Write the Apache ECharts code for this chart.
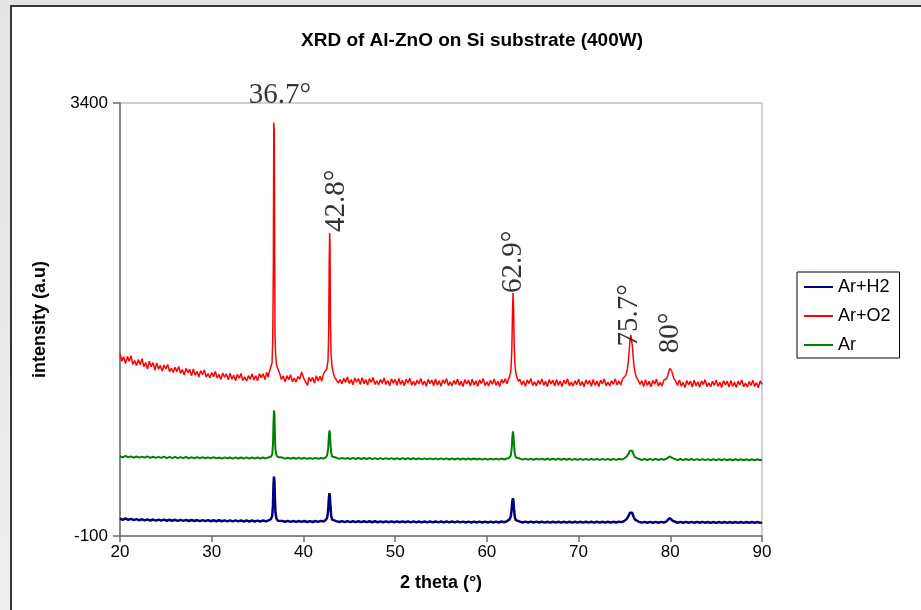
<!DOCTYPE html>
<html>
<head>
<meta charset="utf-8">
<script src="https://cdn.jsdelivr.net/npm/echarts@6/dist/echarts.min.js"></script>
<style>
html,body{margin:0;padding:0;}
body{width:921px;height:610px;overflow:hidden;background:linear-gradient(180deg,#e4e4e4,#efefef);position:relative;}
#frame{position:absolute;left:10px;top:5px;width:1000px;height:700px;background:#fff;border-left:2px solid #383838;border-top:2px solid #383838;}
#chart{position:absolute;left:0;top:0;width:921px;height:610px;}
</style>
</head>
<body>
<div id="frame"></div>
<div id="chart"></div>
<script>
const chartTitle = 'XRD of Al-ZnO on Si substrate (400W)';
const seriesNames = ['Ar+H2', 'Ar+O2', 'Ar'];
const xTicks = [20, 30, 40, 50, 60, 70, 80, 90];
const yTicks = [-100, 3400];

const arO2 = [
[20.0,1374],[20.2,1312],[20.4,1350],[20.6,1293],[20.8,1352],[21.0,1312],[21.2,1357],[21.4,1286],[21.6,1319],[21.8,1277],[22.0,1327],[22.2,1284],[22.4,1334],[22.6,1268],[22.8,1303],[23.0,1249],[23.2,1313],[23.4,1268],[23.6,1301],[23.8,1239],
[24.0,1298],[24.2,1248],[24.4,1279],[24.6,1233],[24.8,1282],[25.0,1250],[25.2,1287],[25.4,1229],[25.6,1256],[25.8,1222],[26.0,1263],[26.2,1229],[26.4,1271],[26.6,1216],[26.8,1246],[27.0,1202],[27.2,1255],[27.4,1219],[27.6,1247],[27.8,1196],
[28.0,1250],[28.2,1200],[28.4,1232],[28.6,1186],[28.8,1236],[29.0,1205],[29.2,1243],[29.4,1185],[29.6,1213],[29.8,1179],[30.0,1221],[30.2,1188],[30.4,1230],[30.6,1177],[30.8,1207],[31.0,1164],[31.2,1218],[31.4,1183],[31.6,1211],[31.8,1162],
[32.0,1216],[32.2,1167],[32.4,1200],[32.6,1155],[32.8,1206],[33.0,1175],[33.2,1214],[33.4,1157],[33.6,1186],[33.8,1153],[34.0,1196],[34.2,1166],[34.4,1211],[34.6,1161],[34.8,1195],[35.0,1154],[35.2,1212],[35.4,1180],[35.6,1211],[35.8,1165],
[36.0,1223],[36.15,1185],[36.3,1232],[36.45,1240],[36.58,1300],[36.65,1470],[36.72,2050],[36.77,3240],[36.82,3180],[36.86,2300],[36.9,1520],[36.97,1360],[37.05,1290],[37.15,1262],[37.3,1235],[37.45,1205],
[37.6,1165],[37.8,1194],[38.0,1146],[38.2,1196],[38.4,1164],[38.6,1203],[38.8,1146],[39.0,1176],[39.2,1144],[39.4,1190],[39.6,1166],[39.8,1225],[39.95,1238],[40.1,1163],[40.3,1175],[40.45,1118],[40.6,1182],[40.8,1150],[41.0,1182],[41.2,1136],[41.4,1196],[41.6,1152],[41.8,1192],[42.0,1153],[42.2,1212],[42.4,1197],
[42.55,1250],[42.68,1320],[42.75,1520],[42.81,2100],[42.86,2350],[42.9,2250],[42.95,1600],[43.02,1360],[43.12,1270],[43.25,1220],[43.4,1185],
[43.6,1197],[43.8,1136],[44.0,1164],[44.2,1131],[44.4,1175],[44.6,1142],[44.8,1186],[45.0,1133],[45.2,1165],[45.4,1122],[45.6,1178],[45.8,1143],[46.0,1173],[46.2,1124],[46.4,1180],[46.6,1131],[46.8,1165],[47.0,1120],[47.2,1172],[47.4,1142],
[47.6,1181],[47.8,1125],[48.0,1155],[48.2,1122],[48.4,1166],[48.6,1134],[48.8,1177],[49.0,1125],[49.2,1157],[49.4,1115],[49.6,1170],[49.8,1136],[50.0,1166],[50.2,1118],[50.4,1173],[50.6,1125],[50.8,1159],[51.0,1115],[51.2,1167],[51.4,1136],
[51.6,1176],[51.8,1120],[52.0,1150],[52.2,1118],[52.4,1161],[52.6,1129],[52.8,1173],[53.0,1121],[53.2,1153],[53.4,1110],[53.6,1166],[53.8,1132],[54.0,1162],[54.2,1114],[54.4,1169],[54.6,1121],[54.8,1155],[55.0,1111],[55.2,1163],[55.4,1132],
[55.6,1172],[55.8,1116],[56.0,1146],[56.2,1114],[56.4,1158],[56.6,1126],[56.8,1170],[57.0,1118],[57.2,1150],[57.4,1108],[57.6,1164],[57.8,1130],[58.0,1160],[58.2,1112],[58.4,1168],[58.6,1120],[58.8,1154],[59.0,1110],[59.2,1162],[59.4,1132],
[59.6,1172],[59.8,1116],[60.0,1146],[60.2,1114],[60.4,1158],[60.6,1126],[60.8,1170],[61.0,1118],[61.2,1150],[61.4,1108],[61.6,1166],[61.8,1135],[62.0,1170],[62.2,1130],
[62.35,1168],[62.5,1190],[62.62,1240],[62.72,1400],[62.8,1720],[62.86,1865],[62.92,1720],[62.98,1450],[63.06,1290],[63.16,1215],[63.3,1175],[63.45,1150],
[63.6,1168],[63.8,1120],[64.0,1154],[64.2,1110],[64.4,1162],[64.6,1132],[64.8,1172],[65.0,1116],[65.2,1146],[65.4,1114],[65.6,1158],[65.8,1126],[66.0,1170],[66.2,1118],[66.4,1150],[66.6,1108],[66.8,1164],[67.0,1130],[67.2,1160],[67.4,1112],
[67.6,1166],[67.8,1118],[68.0,1152],[68.2,1108],[68.4,1160],[68.6,1130],[68.8,1170],[69.0,1114],[69.2,1144],[69.4,1112],[69.6,1156],[69.8,1124],[70.0,1168],[70.2,1116],[70.4,1148],[70.6,1106],[70.8,1162],[71.0,1128],[71.2,1158],[71.4,1110],
[71.6,1166],[71.8,1118],[72.0,1152],[72.2,1108],[72.4,1160],[72.6,1130],[72.8,1170],[73.0,1114],[73.2,1144],[73.4,1112],[73.6,1156],[73.8,1126],[74.0,1170],[74.2,1120],[74.4,1155],[74.6,1120],[74.8,1170],[75.0,1170],
[75.15,1200],[75.3,1240],[75.42,1310],[75.52,1400],[75.62,1490],[75.7,1525],[75.78,1510],[75.86,1440],[75.95,1350],[76.05,1270],[76.18,1215],[76.32,1180],[76.5,1158],
[76.7,1126],[76.9,1156],[77.1,1108],[77.3,1164],[77.5,1116],[77.7,1150],[77.9,1106],[78.1,1158],[78.3,1128],[78.5,1168],[78.7,1112],[78.9,1142],[79.1,1112],[79.3,1160],[79.45,1150],
[79.6,1175],[79.72,1195],[79.84,1230],[79.95,1255],[80.05,1258],[80.15,1235],[80.28,1200],[80.42,1170],[80.6,1150],
[80.8,1118],[81.0,1162],[81.2,1110],[81.4,1142],[81.6,1100],[81.8,1156],[82.0,1122],[82.2,1152],[82.4,1104],[82.6,1160],[82.8,1112],[83.0,1146],[83.2,1102],[83.4,1154],[83.6,1124],[83.8,1164],[84.0,1108],[84.2,1138],[84.4,1106],[84.6,1150],
[84.8,1118],[85.0,1162],[85.2,1110],[85.4,1142],[85.6,1100],[85.8,1156],[86.0,1122],[86.2,1152],[86.4,1104],[86.6,1158],[86.8,1110],[87.0,1144],[87.2,1100],[87.4,1152],[87.6,1122],[87.8,1162],[88.0,1106],[88.2,1136],[88.4,1104],[88.6,1148],
[88.8,1116],[89.0,1160],[89.2,1108],[89.4,1140],[89.6,1098],[89.8,1154],[90.0,1125]
];

const arOnly = [
[20.0,545],[20.3,536],[20.6,547],[20.9,535],[21.2,544],[21.5,534],[21.8,543],[22.1,533],[22.4,542],[22.7,533],[23.0,543],[23.3,532],[23.6,541],[23.9,531],[24.2,540],[24.5,531],[24.8,541],[25.1,530],[25.4,539],[25.7,530],[26.0,540],[26.3,529],[26.6,538],[26.9,529],[27.2,539],[27.5,528],[27.8,537],[28.1,528],[28.4,538],[28.7,527],[29.0,537],[29.3,528],[29.6,536],[29.9,527],[30.2,537],[30.5,527],[30.8,535],[31.1,526],[31.4,536],[31.7,527],[32.0,535],[32.3,526],[32.6,536],[32.9,526],[33.2,534],[33.5,526],[33.8,535],[34.1,526],[34.4,534],[34.7,527],[35.0,535],[35.3,526],[35.6,534],[35.9,527],[36.2,536],[36.45,540],[36.6,560],[36.68,640],[36.74,820],[36.79,915],[36.84,880],[36.89,720],[36.95,600],[37.05,555],[37.2,538],[37.4,530],[37.7,534],[38.0,525],[38.3,533],[38.6,524],[38.9,532],[39.2,524],[39.5,533],[39.8,524],[40.1,532],[40.4,523],[40.7,531],[41.0,523],[41.3,532],[41.6,523],[41.9,531],[42.2,526],[42.45,535],[42.6,555],[42.7,610],[42.77,700],[42.83,753],[42.88,735],[42.94,650],[43.02,575],[43.12,543],[43.3,530],[43.6,532],[43.9,523],[44.2,532],[44.5,523],[44.8,531],[45.1,522],[45.4,531],[45.7,522],[46.0,530],[46.3,522],[46.6,530],[46.9,522],[47.2,531],[47.5,521],[47.8,530],[48.1,521],[48.4,530],[48.7,521],[49.0,529],[49.3,521],[49.6,529],[49.9,520],[50.2,529],[50.5,520],[50.8,529],[51.1,520],[51.4,529],[51.7,520],[52.0,528],[52.3,520],[52.6,528],[52.9,519],[53.2,528],[53.5,519],[53.8,528],[54.1,519],[54.4,528],[54.7,519],[55.0,527],[55.3,519],[55.6,527],[55.9,518],[56.2,527],[56.5,518],[56.8,527],[57.1,518],[57.4,526],[57.7,518],[58.0,527],[58.3,518],[58.6,526],[58.9,518],[59.2,526],[59.5,517],[59.8,526],[60.1,517],[60.4,526],[60.7,517],[61.0,526],[61.3,517],[61.6,526],[61.9,518],[62.2,527],[62.45,533],[62.6,550],[62.7,600],[62.77,690],[62.84,745],[62.9,720],[62.96,640],[63.04,570],[63.15,536],[63.35,524],[63.6,526],[63.9,517],[64.2,526],[64.5,517],[64.8,525],[65.1,516],[65.4,525],[65.7,517],[66.0,525],[66.3,516],[66.6,525],[66.9,516],[67.2,525],[67.5,516],[67.8,525],[68.1,516],[68.4,524],[68.7,516],[69.0,524],[69.3,515],[69.6,524],[69.9,515],[70.2,524],[70.5,515],[70.8,524],[71.1,515],[71.4,524],[71.7,515],[72.0,523],[72.3,515],[72.6,523],[72.9,515],[73.2,523],[73.5,514],[73.8,523],[74.1,515],[74.4,524],[74.7,518],[75.0,528],[75.25,542],[75.45,566],[75.6,590],[75.72,602],[75.84,590],[75.98,562],[76.15,537],[76.35,524],[76.6,522],[76.9,514],[77.2,523],[77.5,514],[77.8,523],[78.1,514],[78.4,523],[78.7,514],[79.0,522],[79.3,516],[79.6,524],[79.8,532],[79.92,543],[80.02,548],[80.12,541],[80.3,528],[80.5,520],[80.8,513],[81.1,522],[81.4,513],[81.7,522],[82.0,513],[82.3,522],[82.6,513],[82.9,521],[83.2,513],[83.5,521],[83.8,513],[84.1,521],[84.4,512],[84.7,521],[85.0,512],[85.3,521],[85.6,512],[85.9,521],[86.2,512],[86.5,520],[86.8,512],[87.1,520],[87.4,512],[87.7,520],[88.0,512],[88.3,520],[88.6,511],[88.9,520],[89.2,511],[89.5,520],[89.8,512],[90.0,517]
];

const arH2 = [
[20.0,40],[20.3,30],[20.6,42],[20.9,31],[21.2,38],[21.5,28],[21.8,36],[22.1,27],[22.4,35],[22.7,26],[23.0,34],[23.3,25],[23.6,33],[23.9,24],[24.2,32],[24.5,24],[24.8,32],[25.1,23],[25.4,31],[25.7,23],[26.0,31],[26.3,22],[26.6,30],[26.9,22],[27.2,30],[27.5,21],[27.8,29],[28.1,21],[28.4,29],[28.7,20],[29.0,28],[29.3,20],[29.6,28],[29.9,19],[30.2,27],[30.5,19],[30.8,27],[31.1,19],[31.4,26],[31.7,18],[32.0,26],[32.3,18],[32.6,26],[32.9,18],[33.2,25],[33.5,17],[33.8,25],[34.1,17],[34.4,25],[34.7,17],[35.0,24],[35.3,17],[35.6,25],[35.9,18],[36.2,27],[36.45,36],[36.6,62],[36.68,150],[36.74,320],[36.79,381],[36.84,340],[36.89,200],[36.95,92],[37.05,42],[37.2,24],[37.4,16],[37.7,22],[38.0,15],[38.3,22],[38.6,14],[38.9,21],[39.2,14],[39.5,21],[39.8,14],[40.1,21],[40.4,13],[40.7,20],[41.0,13],[41.3,21],[41.6,14],[41.9,22],[42.2,18],[42.45,30],[42.6,52],[42.7,110],[42.77,200],[42.83,246],[42.88,225],[42.94,150],[43.02,70],[43.12,32],[43.3,18],[43.6,20],[43.9,13],[44.2,20],[44.5,12],[44.8,20],[45.1,12],[45.4,19],[45.7,12],[46.0,19],[46.3,12],[46.6,19],[46.9,12],[47.2,19],[47.5,11],[47.8,19],[48.1,11],[48.4,18],[48.7,11],[49.0,18],[49.3,11],[49.6,18],[49.9,11],[50.2,18],[50.5,11],[50.8,18],[51.1,11],[51.4,18],[51.7,10],[52.0,18],[52.3,10],[52.6,17],[52.9,10],[53.2,17],[53.5,10],[53.8,17],[54.1,10],[54.4,17],[54.7,10],[55.0,17],[55.3,10],[55.6,17],[55.9,10],[56.2,17],[56.5,10],[56.8,17],[57.1,10],[57.4,16],[57.7,9],[58.0,16],[58.3,9],[58.6,16],[58.9,9],[59.2,16],[59.5,9],[59.8,16],[60.1,9],[60.4,16],[60.7,9],[61.0,16],[61.3,9],[61.6,17],[61.9,11],[62.2,20],[62.45,32],[62.6,55],[62.7,110],[62.77,175],[62.84,206],[62.9,185],[62.96,120],[63.04,58],[63.15,28],[63.35,14],[63.6,16],[63.9,9],[64.2,16],[64.5,9],[64.8,16],[65.1,9],[65.4,16],[65.7,9],[66.0,15],[66.3,8],[66.6,15],[66.9,8],[67.2,15],[67.5,8],[67.8,15],[68.1,8],[68.4,15],[68.7,8],[69.0,15],[69.3,8],[69.6,15],[69.9,8],[70.2,15],[70.5,8],[70.8,15],[71.1,8],[71.4,15],[71.7,8],[72.0,15],[72.3,8],[72.6,15],[72.9,8],[73.2,15],[73.5,8],[73.8,15],[74.1,9],[74.4,16],[74.7,12],[75.0,22],[75.25,38],[75.45,62],[75.6,88],[75.72,99],[75.84,88],[75.98,60],[76.15,32],[76.35,16],[76.6,14],[76.9,8],[77.2,14],[77.5,7],[77.8,14],[78.1,7],[78.4,14],[78.7,7],[79.0,14],[79.3,9],[79.6,18],[79.8,30],[79.92,45],[80.02,51],[80.12,42],[80.3,22],[80.5,12],[80.8,7],[81.1,14],[81.4,7],[81.7,14],[82.0,7],[82.3,14],[82.6,7],[82.9,14],[83.2,7],[83.5,14],[83.8,7],[84.1,13],[84.4,6],[84.7,13],[85.0,6],[85.3,13],[85.6,6],[85.9,13],[86.2,6],[86.5,13],[86.8,6],[87.1,13],[87.4,6],[87.7,13],[88.0,6],[88.3,13],[88.6,6],[88.9,13],[89.2,6],[89.5,13],[89.8,6],[90.0,10]
];

// peak annotations (text and anchor position in data units)
const peakLabels = ['36.7°', '42.8°', '62.9°', '75.7°', '80°'];
const labelTheta = [37.45, 43.55, 62.9, 75.55, 80.0];
const labelIntensity = [3345, 2358, 1865, 1431, 1377];

const serif = "'Liberation Serif', 'Times New Roman', serif";
const sans = "'Liberation Sans', Arial, sans-serif";

const annData = peakLabels.map((t, i) => {
  const horizontal = i === 0;
  return {
    value: [labelTheta[i], labelIntensity[i]],
    label: horizontal
      ? { show: true, formatter: t, position: 'top', distance: 0, rotate: 0, align: 'center', verticalAlign: 'bottom' }
      : { show: true, formatter: t, position: 'top', distance: 0, rotate: 90, align: 'left', verticalAlign: 'middle' }
  };
});

const chart = echarts.init(document.getElementById('chart'), null, { renderer: 'canvas' });
chart.setOption({
  animation: false,
  backgroundColor: 'transparent',
  title: {
    text: chartTitle,
    left: 467,
    top: 26,
    textAlign: 'center',
    textStyle: { fontFamily: sans, fontSize: 19, fontWeight: 'bold', color: '#000' }
  },
  legend: {
    orient: 'vertical',
    left: 797,
    top: 272,
    data: seriesNames,
    icon: 'rect',
    itemWidth: 29,
    itemHeight: 2,
    itemGap: 11,
    padding: [6, 9, 4, 7],
    borderColor: '#000',
    borderWidth: 1,
    borderRadius: 0,
    backgroundColor: '#fff',
    textStyle: { fontFamily: sans, fontSize: 18, color: '#000' }
  },
  grid: {
    left: 120, right: 159, top: 103, bottom: 74,
    show: true, borderColor: '#a0a0a0', borderWidth: 1, backgroundColor: 'transparent'
  },
  xAxis: {
    type: 'value', min: xTicks[0], max: xTicks[xTicks.length - 1], interval: xTicks[1] - xTicks[0],
    name: '2 theta (°)', nameLocation: 'middle', nameGap: 38,
    nameTextStyle: { fontFamily: sans, fontSize: 18, fontWeight: 'bold', color: '#000' },
    axisLine: { onZero: false, lineStyle: { color: '#6e6e6e', width: 1.5 } },
    axisTick: { show: true, inside: false, length: 6, lineStyle: { color: '#6e6e6e', width: 1.5 } },
    axisLabel: { fontFamily: sans, fontSize: 17, color: '#000', margin: 8 },
    splitLine: { show: false }
  },
  yAxis: {
    type: 'value', min: yTicks[0], max: yTicks[yTicks.length - 1],
    name: 'intensity (a.u)', nameLocation: 'middle', nameGap: 71, nameRotate: 90,
    nameTextStyle: { fontFamily: sans, fontSize: 18, fontWeight: 'bold', color: '#000' },
    axisLine: { show: true, onZero: false, lineStyle: { color: '#6e6e6e', width: 1.5 } },
    axisTick: { show: true, inside: false, length: 7, customValues: yTicks, lineStyle: { color: '#6e6e6e', width: 1.5 } },
    axisLabel: { fontFamily: sans, fontSize: 17, color: '#000', margin: 12, customValues: yTicks, formatter: v => String(v) },
    splitLine: { show: false }
  },
  series: [
    { name: seriesNames[0], type: 'line', data: arH2, symbol: 'none', color: '#000080', lineStyle: { width: 2.5, color: '#000080' }, z: 3 },
    { name: seriesNames[1], type: 'line', data: arO2, symbol: 'none', color: '#ff0000', lineStyle: { width: 1.5, color: '#ff0000' }, z: 2 },
    { name: seriesNames[2], type: 'line', data: arOnly, symbol: 'none', color: '#008000', lineStyle: { width: 2, color: '#008000' }, z: 2 },
    {
      name: 'labels', type: 'scatter', data: annData, symbolSize: 0, silent: true, z: 5,
      label: { fontFamily: serif, fontSize: 29, color: '#000' }
    }
  ]
});
</script>
</body>
</html>
